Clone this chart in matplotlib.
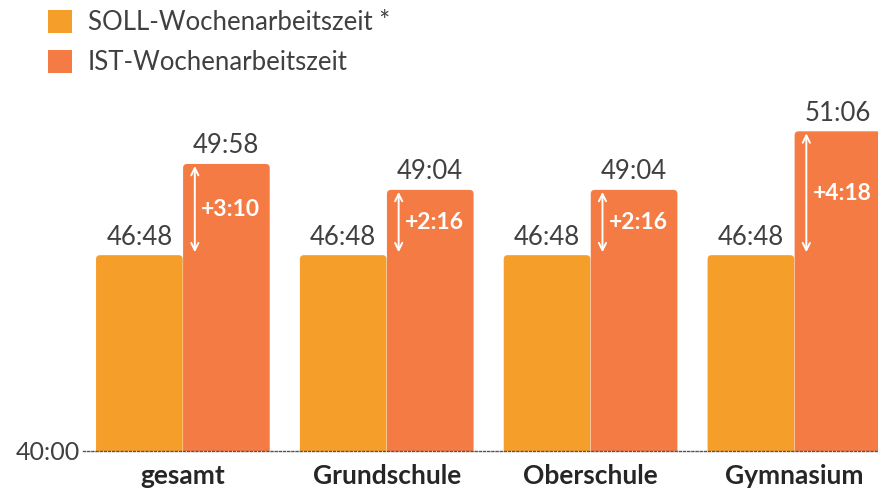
"""SOLL vs. IST Wochenarbeitszeit nach Schulart (Balkendiagramm)."""
import matplotlib
matplotlib.use("Agg")
import matplotlib.pyplot as plt
from matplotlib.patches import FancyBboxPatch, Rectangle

plt.rcParams["font.family"] = ["Lato", "DejaVu Sans"]

categories = ["gesamt", "Grundschule", "Oberschule", "Gymnasium"]
soll = ["46:48", "46:48", "46:48", "46:48"]
ist = ["49:58", "49:04", "49:04", "51:06"]
legend_labels = ["SOLL-Wochenarbeitszeit *", "IST-Wochenarbeitszeit"]

C_SOLL = "#F59E2A"
C_IST = "#F47B44"
TXT = "#404040"

W, H = 879, 488


def hours(s):
    h, m = s.split(":")
    return int(h) + int(m) / 60.0


def minutes(s):
    h, m = s.split(":")
    return int(h) * 60 + int(m)


def fmt_diff(mins):
    return f"+{mins // 60}:{mins % 60:02d}"


soll_h = [hours(s) for s in soll]
ist_h = [hours(s) for s in ist]
deltas = [fmt_diff(minutes(b) - minutes(a)) for a, b in zip(soll, ist)]

fig = plt.figure(figsize=(W / 100, H / 100), dpi=100)
ax = fig.add_axes([83 / W, 37 / H, (W - 83) / W, 360 / H])
# keep group centres where they were with the left edge at 83 px
ax.set_xlim(-0.490, 3.415)
ax.set_ylim(40, 52.5)

x = list(range(len(categories)))
bw = 0.425
off = 0.2135
b1 = ax.bar([i - off for i in x], soll_h, width=bw, color=C_SOLL)
b2 = ax.bar([i + off for i in x], ist_h, width=bw, color=C_IST)

# swap plain bars for ones with slightly rounded top corners
r = 0.02
asp = (4 / 28.8) / r
for bars in (b1, b2):
    for p in bars:
        x0, w, top = p.get_x(), p.get_width(), p.get_height()
        p.set_visible(False)
        ax.add_patch(FancyBboxPatch((x0, 38), w, top - 38,
                                    boxstyle=f"round,pad=0,rounding_size={r}",
                                    mutation_aspect=asp, fc=p.get_facecolor(),
                                    ec="none", clip_on=True))

for i in x:
    ax.annotate(soll[i], (i - off, soll_h[i]), xytext=(0, 4), textcoords="offset points",
                ha="center", va="bottom", fontsize=18.5, color=TXT)
    ax.annotate(ist[i], (i + off, ist_h[i]), xytext=(0, 4), textcoords="offset points",
                ha="center", va="bottom", fontsize=18.5, color=TXT)
    ax_x = i + off - 0.155
    ax.annotate("", xy=(ax_x, ist_h[i] - 0.07), xytext=(ax_x, soll_h[i] + 0.1),
                arrowprops=dict(arrowstyle="<->", color="white", lw=1.4,
                                shrinkA=0, shrinkB=0, mutation_scale=13))
    ax.text(ax_x + 0.03, (ist_h[i] + soll_h[i]) / 2, deltas[i], ha="left",
            va="center", fontsize=16.5, fontweight="bold", color="white")

for s in ("top", "right", "left"):
    ax.spines[s].set_visible(False)
ax.spines["bottom"].set_linestyle((0, (1.5, 1.5)))
ax.spines["bottom"].set_color("#555555")
ax.spines["bottom"].set_linewidth(1.0)
ax.spines["bottom"].set_zorder(5)

ax.set_yticks([40])
ax.set_yticklabels(["40:00"], fontsize=18, color=TXT)
ax.tick_params(axis="y", length=0, pad=2)
ax.set_xticks(x)
ax.set_xticklabels(categories, fontsize=19, fontweight="bold", color="#262626")
ax.tick_params(axis="x", length=0, pad=9)

# legend drawn by hand, top left
for k, (lab, col) in enumerate(zip(legend_labels, [C_SOLL, C_IST])):
    ytop = 10 + 40 * k
    fig.add_artist(Rectangle((48 / W, 1 - (ytop + 23) / H), 24 / W, 23 / H,
                             transform=fig.transFigure, fc=col, ec="none"))
    fig.text(88 / W, 1 - (ytop + 13) / H, lab, ha="left", va="center",
             fontsize=18.5, color=TXT)

fig.savefig("out.png", dpi=100)
